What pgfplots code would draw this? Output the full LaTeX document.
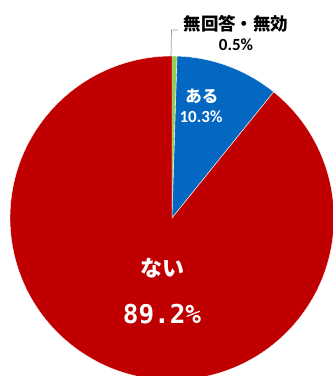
\documentclass[border=0pt]{standalone}
\usepackage{pgfplots}
\pgfplotsset{compat=1.18}
\usepackage{pgfplotstable}
\usepackage{fontspec}
\setmainfont{Carlito}
\newfontfamily\jp{Noto Sans CJK JP}
\newfontfamily\mono{DejaVu Sans Mono}
\definecolor{pred}{HTML}{C00000}
\definecolor{pblue}{HTML}{0467C2}
\definecolor{pgreen}{HTML}{92D050}

\pgfplotstableread{
label value color
noanswer 0.5 pgreen
aru 10.3 pblue
nai 89.2 pred
}\piedata

\begin{document}
\begin{tikzpicture}
\begin{axis}[scale only axis, width=333pt, height=376pt,
  xmin=0, xmax=333, ymin=-376, ymax=0, hide axis, clip=true]
\def\startang{90}
\pgfplotsforeachungrouped \i in {0,1,2}{%
  \pgfplotstablegetelem{\i}{value}\of\piedata \let\v\pgfplotsretval
  \pgfplotstablegetelem{\i}{color}\of\piedata \let\c\pgfplotsretval
  \pgfmathsetmacro\endang{\startang-3.6*\v}%
  \edef\temp{\noexpand\fill[\c, draw=white, line width=0.4pt] (axis cs:172,-218) -- ++(\startang:162pt) arc[start angle=\startang, end angle=\endang, radius=162pt] -- cycle;}%
  \temp
  \global\let\startang\endang
}
\draw[gray!80, line width=0.7pt] (axis cs:171,-57) -- (axis cs:171.5,-30) -- (axis cs:178,-30);
\node[font=\jp\bfseries\fontsize{17.5}{17.5}\selectfont] at (axis cs:236,-24) {無回答・無効};
\node[font=\bfseries\fontsize{17}{17}\selectfont] at (axis cs:236,-45) {0.5\%};
\node[white, font=\jp\bfseries\fontsize{16.5}{16.5}\selectfont] at (axis cs:202,-96) {ある};
\node[white, font=\bfseries\fontsize{17}{17}\selectfont] at (axis cs:201,-117) {10.3\%};
\node[white, font=\jp\bfseries\fontsize{22}{22}\selectfont] at (axis cs:163,-268) {ない};
\node[white, font=\mono\bfseries\fontsize{26}{26}\selectfont] at (axis cs:162,-314) {89.2\%};
\end{axis}
\pgfresetboundingbox
\path[use as bounding box] (current axis.south west) rectangle (current axis.north east);
\end{tikzpicture}
\end{document}
